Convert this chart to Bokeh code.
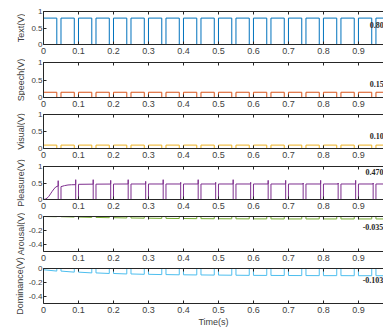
import math
from bokeh.plotting import figure
from bokeh.layouts import column, row
from bokeh.models import FixedTicker, LinearAxis, Range1d
from bokeh.core.properties import value
from bokeh.embed import file_html
from bokeh.resources import INLINE

# ---------------- data ----------------
period = 0.05          # s, one on/off cycle
on_time = 0.038        # s, "on" part of each cycle (Text/Speech/Visual/Arousal/Dominance)
pleasure_on_time = 0.042
n_pulses = 20

panel_names = ["Text(V)", "Speech(V)", "Visual(V)", "Pleasure(V)", "Arousal(V)", "Dominance(V)"]
colors = ["#0072BD", "#D95319", "#EDB120", "#7E2F8E", "#77AC30", "#4DBEEE"]

text_level = 0.80
speech_level = 0.15
visual_level = 0.10

# Pleasure: first pulse (S-curve) and second pulse (slow rise), then near-flat pulses
pleasure_p1_offsets = [0.0, 0.005, 0.01, 0.015, 0.02, 0.025, 0.03, 0.035, 0.042]
pleasure_p1_values = [0.0, 0.01, 0.04, 0.09, 0.17, 0.25, 0.32, 0.38, 0.41]
pleasure_p2_offsets = [0.0, 0.01, 0.02, 0.03, 0.042]
pleasure_p2_values = [0.39, 0.42, 0.44, 0.447, 0.45]
pleasure_start = [0.46, 0.465, 0.468, 0.47, 0.47, 0.47, 0.47, 0.47, 0.47, 0.47,
                  0.47, 0.47, 0.47, 0.47, 0.47, 0.47, 0.47, 0.47]
pleasure_end = [0.465, 0.468, 0.47, 0.47, 0.47, 0.47, 0.47, 0.47, 0.47, 0.47,
                0.47, 0.47, 0.47, 0.47, 0.47, 0.47, 0.47, 0.47]
pleasure_spike = [0.57, 0.60, 0.60, 0.58, 0.60, 0.55, 0.60, 0.52, 0.60, 0.52,
                  0.60, 0.52, 0.58, 0.58, 0.50, 0.58, 0.50, 0.58, 0.50, 0.50]

arousal_first_start = 0.0
arousal_end = [-0.003, -0.008, -0.013, -0.017, -0.021, -0.024, -0.027, -0.029, -0.031, -0.032,
               -0.033, -0.034, -0.034, -0.035, -0.035, -0.035, -0.035, -0.035, -0.035, -0.035]

dominance_first_start = -0.018
dominance_end = [-0.037, -0.052, -0.063, -0.071, -0.078, -0.083, -0.087, -0.090, -0.092, -0.094,
                 -0.096, -0.098, -0.099, -0.100, -0.101, -0.102, -0.102, -0.103, -0.103, -0.103]

final_labels = ["0.80", "0.15", "0.10", "0.470", "-0.035", "-0.103"]
label_x = [0.932, 0.932, 0.932, 0.920, 0.912, 0.912]
label_y = [0.60, 0.40, 0.38, 0.82, -0.153, -0.171]

x_ticks = [0, 0.1, 0.2, 0.3, 0.4, 0.5, 0.6, 0.7, 0.8, 0.9]
x_tick_labels = ["0", "0.1", "0.2", "0.3", "0.4", "0.5", "0.6", "0.7", "0.8", "0.9"]
y_ticks_pos = [0, 0.5, 1]
y_tick_labels_pos = ["0", "0.5", "1"]
y_ticks_neg = [-0.4, -0.2, 0]
y_tick_labels_neg = ["-0.4", "-0.2", "0"]
x_end = 0.9716   # visible part of the 0..1 time axis
x_label = "Time(s)"

# ---------------- waveform construction ----------------
def square_wave(starts, ends, on):
    xs, ys = [], []
    for k in range(n_pulses):
        t0 = k * period
        t1 = t0 + on
        t2 = (k + 1) * period
        xs += [t0, t0, t1, t1, t2]
        ys += [0, starts[k], ends[k], 0, 0]
    return xs, ys

def const_wave(level):
    return square_wave([level] * n_pulses, [level] * n_pulses, on_time)

def chain_wave(first_start, ends):
    starts = [first_start] + ends[:-1]
    return square_wave(starts, ends, on_time)

def pleasure_wave():
    xs, ys = [], []
    # pulse 1
    xs += list(pleasure_p1_offsets)
    ys += list(pleasure_p1_values)
    t1 = pleasure_on_time
    xs += [t1, t1, period]
    ys += [pleasure_spike[0], 0, 0]
    # pulse 2
    t0 = period
    xs += [t0] + [t0 + o for o in pleasure_p2_offsets]
    ys += [0] + list(pleasure_p2_values)
    t1 = t0 + pleasure_on_time
    xs += [t1, t1, 2 * period]
    ys += [pleasure_spike[1], 0, 0]
    # remaining pulses
    for i in range(n_pulses - 2):
        k = i + 2
        t0 = k * period
        t1 = t0 + pleasure_on_time
        xs += [t0, t0, t1, t1, t1, (k + 1) * period]
        ys += [0, pleasure_start[i], pleasure_end[i], pleasure_spike[k], 0, 0]
    return xs, ys

waves = [
    const_wave(text_level),
    const_wave(speech_level),
    const_wave(visual_level),
    pleasure_wave(),
    chain_wave(arousal_first_start, arousal_end),
    chain_wave(dominance_first_start, dominance_end),
]

# ---------------- layout ----------------
TOTAL_H = 330
LABEL_W = 25
MAIN_W = 383 - LABEL_W
heights = [59, 52, 52, 50, 52, 65]
tops = [11, 3, 3, 3, 3, 3]
bottoms = [15, 14, 15, 14, 14, 27]
FONT = "Liberation Sans"
AX = "#262626"
TXT = "#404040"

figs = []
for i in range(6):
    neg = i >= 4
    yr = Range1d(-0.5, 0) if neg else Range1d(0, 1)
    p = figure(width=MAIN_W, height=heights[i], x_range=Range1d(0, x_end), y_range=yr,
               output_backend="svg", toolbar_location=None,
               min_border_left=41 - LABEL_W, min_border_right=0,
               min_border_top=tops[i], min_border_bottom=bottoms[i])
    p.outline_line_color = None
    p.grid.visible = False
    p.background_fill_color = "white"
    p.border_fill_color = "white"

    xs, ys = waves[i]
    p.line(xs, ys, line_color=colors[i], line_width=1.0)
    p.text(x=[label_x[i]], y=[label_y[i]], text=[final_labels[i]],
           text_font=value("Liberation Serif"), text_font_style="bold",
           text_font_size="8px", text_baseline="middle", text_align="left",
           text_color="#262626")

    # bottom x axis
    xa = p.xaxis[0]
    xa.ticker = FixedTicker(ticks=x_ticks)
    xa.major_label_overrides = {t: l for t, l in zip(x_ticks, x_tick_labels)}
    xa.major_tick_in = 3
    xa.major_tick_out = 0
    xa.minor_tick_line_color = None
    xa.axis_line_color = AX
    xa.major_tick_line_color = AX
    xa.major_label_text_font = FONT
    xa.major_label_text_font_size = "9px"
    xa.major_label_text_color = TXT
    xa.major_label_standoff = 3
    if i == 5:
        xa.axis_label = x_label
        xa.axis_label_text_font = FONT
        xa.axis_label_text_font_size = "9px"
        xa.axis_label_text_font_style = "normal"
        xa.axis_label_text_color = TXT
        xa.axis_label_standoff = 1

    # top axis (ticks only, box edge)
    top = LinearAxis(ticker=FixedTicker(ticks=x_ticks), major_tick_in=3, major_tick_out=0,
                     minor_tick_line_color=None, axis_line_color=AX, major_tick_line_color=AX,
                     major_label_text_font_size="1px", major_label_text_color=None,
                     major_label_standoff=0)
    p.add_layout(top, "above")

    # left y axis
    ya = p.yaxis[0]
    ticks = y_ticks_neg if neg else y_ticks_pos
    labels = y_tick_labels_neg if neg else y_tick_labels_pos
    ya.ticker = FixedTicker(ticks=ticks)
    ya.major_label_overrides = {t: l for t, l in zip(ticks, labels)}
    ya.major_tick_in = 3
    ya.major_tick_out = 0
    ya.minor_tick_line_color = None
    ya.axis_line_color = AX
    ya.major_tick_line_color = AX
    ya.major_label_text_font = FONT
    ya.major_label_text_font_size = "8px"
    ya.major_label_text_color = TXT
    ya.major_label_standoff = 1
    figs.append(p)

# ---------------- left strip with the (long) rotated y-axis titles ----------------
# y positions (measured upward from the bottom of the strip) = centres of the panels' frames
frame_centers = []
acc = 0
for i in range(6):
    frame_h = heights[i] - tops[i] - bottoms[i]
    frame_centers.append(TOTAL_H - (acc + tops[i] + frame_h / 2))
    acc += heights[i]
title_x = [20.5, 20.5, 20.5, 20.5, 20, 19.5]

lab = figure(width=LABEL_W, height=TOTAL_H, x_range=Range1d(0, LABEL_W),
             y_range=Range1d(0, TOTAL_H), output_backend="svg", toolbar_location=None,
             x_axis_location=None, y_axis_location=None,
             min_border=0, min_border_left=0, min_border_right=0,
             min_border_top=0, min_border_bottom=0)
lab.outline_line_color = None
lab.grid.visible = False
lab.text(x=title_x, y=frame_centers, text=panel_names, angle=math.pi / 2,
         text_font=value(FONT), text_font_size="9px", text_align="center",
         text_baseline="alphabetic", text_color=TXT)

layout = row(lab, column(*figs, spacing=0), spacing=0)
open("out.html", "w").write(file_html(layout, INLINE))
